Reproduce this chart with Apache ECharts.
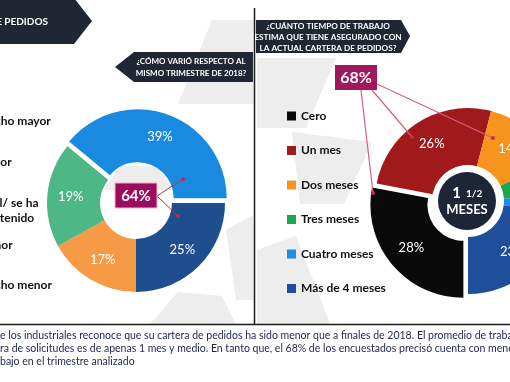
<!DOCTYPE html>
<html><head><meta charset="utf-8">
<script src="https://cdn.jsdelivr.net/npm/echarts@6/dist/echarts.min.js"></script>
<style>html,body{margin:0;padding:0;background:#fff}#c{width:510px;height:382px}</style>
</head><body><div id="c"></div>
<script>
// ---- data ----
const leftCategories = ['Mucho mayor', 'Mayor', 'Igual/ se ha\nmantenido', 'Menor', 'Mucho menor'];
const leftValues = [0, 17, 19, 39, 25];
const rightCategories = ['Cero', 'Un mes', 'Dos meses', 'Tres meses', 'Cuatro meses', 'Más de 4 meses'];
const rightValues = [28, 26, 14, 6, 3, 23];
const leftHighlight = '64%';
const rightHighlight = '68%';
const centerBig = '1';
const centerFrac = '1/2';
const centerWord = 'MESES';
const headerTitle = 'CARTERA DE PEDIDOS';
const leftQuestion = '¿CÓMO VARIÓ RESPECTO AL\nMISMO TRIMESTRE DE 2018?';
const rightQuestion = '¿CUÁNTO TIEMPO DE TRABAJO\nESTIMA QUE TIENE ASEGURADO CON\nLA ACTUAL CARTERA DE PEDIDOS?';
const footnoteLines = [
  'e los industriales reconoce que su cartera de pedidos ha sido menor que a finales de 2018. El promedio de trabajo',
  'ra de solicitudes es de apenas 1 mes y medio. En tanto que, el 68% de los encuestados precisó cuenta con menos',
  'bajo en el trimestre analizado'
];

// ---- styles ----
const leftColors = ['#9a9a9a', '#f79a46', '#4db885', '#1a8ae0', '#1f4e8f'];
const rightColors = ['#0a0a0a', '#a01a1c', '#f7941d', '#1aa64a', '#1e8fe6', '#1f4e9a'];
const leftLabelY = [121, 162, 210.5, 245, 285];
const FONT = 'Lato, "Open Sans", sans-serif';
const navy = '#1e2733';
const WM = '#ededed';

const chart = echarts.init(document.getElementById('c'), null, {renderer: 'canvas'});

const g = [];
// watermark shapes
[
  [[178,104],[212,20],[253,20],[253,104]],
  [[226,230],[253,215],[253,300],[236,300]],
  [[150,324],[178,292],[222,296],[236,324]],
  [[104,190],[120,166],[160,166],[172,190]],
  [[257,58],[336,58],[306,128],[257,128]],
  [[257,250],[296,236],[330,324],[257,324]],
  [[292,132],[372,142],[344,204],[300,204]]
].forEach(p => g.push({type:'polygon', z:0, silent:true, shape:{points:p}, style:{fill:WM}}));

// header banner
g.push({type:'polygon', z:50, shape:{points:[[0,-2],[74,-2],[92,21],[74,44],[0,44]]}, style:{fill:navy}});
g.push({type:'text', z:51, style:{text:headerTitle, x:48, y:22, align:'right', verticalAlign:'middle', font:'bold 10px ' + FONT, fill:'#fff'}});
// left question banner
g.push({type:'polygon', z:50, shape:{points:[[115,67],[134,52],[253,52],[253,82],[134,82]]}, style:{fill:navy}});
g.push({type:'text', z:51, style:{text:leftQuestion, x:191, y:67, align:'center', verticalAlign:'middle', lineHeight:12, font:'bold 8px ' + FONT, fill:'#fff'}});
// right question banner
g.push({type:'polygon', z:50, shape:{points:[[256,20],[401,20],[410,36],[401,53],[256,53]]}, style:{fill:navy}});
g.push({type:'text', z:51, style:{text:rightQuestion, x:328, y:37, align:'center', verticalAlign:'middle', lineHeight:11, font:'bold 8.2px ' + FONT, fill:'#fff'}});

// dividers
g.push({type:'line', z:50, shape:{x1:254.5, y1:8, x2:254.5, y2:324}, style:{stroke:'#1a1a1a', lineWidth:1.5}});
g.push({type:'line', z:50, shape:{x1:0, y1:324.5, x2:510, y2:324.5}, style:{stroke:'#1a1a1a', lineWidth:1.5}});

// left category labels (cut at the left edge as in the source)
leftCategories.forEach((t, i) => g.push({type:'text', z:51, style:{text:t, x:-23, y:leftLabelY[i], align:'left', verticalAlign:'middle', lineHeight:15.5, font:'bold 12px ' + FONT, fill:'#111'}}));

// 64% annotation
g.push({type:'line', z:60, shape:{x1:157, y1:196, x2:183, y2:179}, style:{stroke:'#b3304a', lineWidth:1}});
g.push({type:'line', z:60, shape:{x1:157, y1:196, x2:178, y2:216}, style:{stroke:'#b3304a', lineWidth:1}});
g.push({type:'circle', z:61, shape:{cx:183, cy:179, r:2}, style:{fill:'#b3304a'}});
g.push({type:'circle', z:61, shape:{cx:178, cy:216, r:2}, style:{fill:'#b3304a'}});
g.push({type:'rect', z:62, shape:{x:115, y:183, width:42, height:25}, style:{fill:'#9b0d5c', stroke:'#f0b4cc', lineWidth:1}});
g.push({type:'text', z:63, style:{text:leftHighlight, x:136, y:196, align:'center', verticalAlign:'middle', font:'bold 15px ' + FONT, fill:'#fff'}});

// 68% annotation
g.push({type:'line', z:60, shape:{x1:361, y1:90, x2:373, y2:193}, style:{stroke:'#d6607c', lineWidth:1.2}});
g.push({type:'line', z:60, shape:{x1:372, y1:90, x2:412, y2:137}, style:{stroke:'#d6607c', lineWidth:1.2}});
g.push({type:'line', z:60, shape:{x1:377, y1:84, x2:493, y2:138}, style:{stroke:'#d6607c', lineWidth:1.2}});
[[373,193],[412,137],[493,138]].forEach(p => g.push({type:'circle', z:61, shape:{cx:p[0], cy:p[1], r:2}, style:{fill:'#c0304a'}}));
g.push({type:'rect', z:62, shape:{x:335, y:65, width:42, height:25}, style:{fill:'#a0175c'}});
g.push({type:'text', z:63, style:{text:rightHighlight, x:356, y:78, align:'center', verticalAlign:'middle', font:'bold 16px ' + FONT, fill:'#fff'}});

// centre disc of the right donut
g.push({type:'circle', z:60, shape:{cx:467, cy:201, r:29}, style:{fill:'#1d2636'}});
g.push({type:'text', z:61, style:{text:centerBig, x:461, y:193, align:'right', verticalAlign:'middle', font:'bold 15px ' + FONT, fill:'#fff'}});
g.push({type:'text', z:61, style:{text:centerFrac, x:466, y:194, align:'left', verticalAlign:'middle', font:'bold 10px ' + FONT, fill:'#fff'}});
g.push({type:'text', z:61, style:{text:centerWord, x:467, y:210, align:'center', verticalAlign:'middle', font:'bold 13px ' + FONT, fill:'#fff'}});

// footnote
footnoteLines.forEach((t, i) => g.push({type:'text', z:51, style:{text:t, x:0, y:336 + i * 13, align:'left', verticalAlign:'middle', font:'10.5px ' + FONT, fill:'#1c2650'}}));

const pieLabel = {show:true, position:'inside', formatter: p => p.value + '%', color:'#fff', fontSize:13, fontFamily:FONT};

chart.setOption({
  animation:false,
  backgroundColor:'#fff',
  legend:{
    data:rightCategories, orient:'vertical', left:282, top:103.5, icon:'rect',
    itemWidth:9, itemHeight:9, itemGap:19.5, selectedMode:false,
    textStyle:{fontFamily:FONT, fontWeight:'bold', fontSize:12, color:'#111', lineHeight:15}
  },
  graphic:{elements:g},
  series:[
    {
      type:'pie', name:'izq', center:[136,203], radius:[36,89], startAngle:270, clockwise:true,
      selectedMode:'multiple', selectedOffset:5, avoidLabelOverlap:false, silent:true,
      label:pieLabel, labelLine:{show:false},
      data:leftCategories.map((n, i) => ({name:n, value:leftValues[i], selected:i === 3,
        itemStyle:{color:leftColors[i]}, label:{show:leftValues[i] > 0}}))
    },
    {
      type:'pie', name:'der', center:[468,201], radius:[36,93], startAngle:270, clockwise:true,
      selectedMode:'multiple', selectedOffset:6, avoidLabelOverlap:false, silent:true,
      label:pieLabel, labelLine:{show:false},
      data:rightCategories.map((n, i) => ({name:n, value:rightValues[i], selected:i === 0,
        itemStyle:{color:rightColors[i]}}))
    }
  ]
});
</script></body></html>
